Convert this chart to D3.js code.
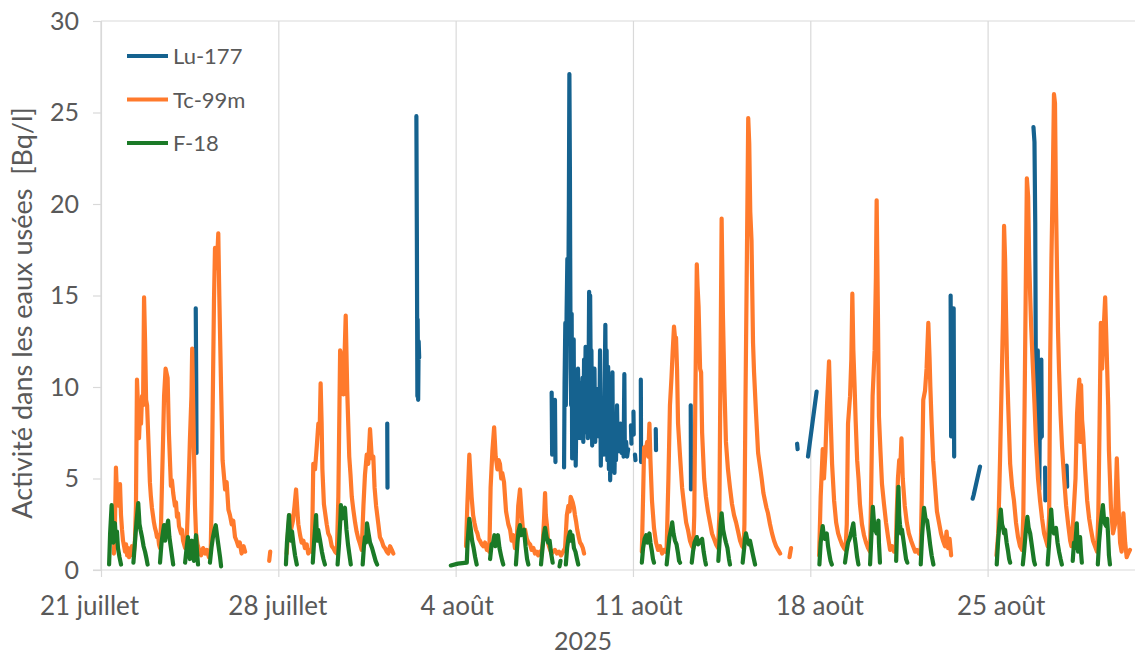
<!DOCTYPE html>
<html><head><meta charset="utf-8">
<script src="https://cdn.jsdelivr.net/npm/d3@7"></script>
<style>
body{margin:0;background:#fff}
svg{display:block}
text{font-family:Lato,'Open Sans',sans-serif;fill:#595959}
</style>
</head><body>
<svg id="chart" width="1135" height="655"></svg>
<script>
// ---------- data ----------
const startDay = Date.UTC(2025, 6, 21);   // 21 juillet 2025, 00:00
const endDay = Date.UTC(2025, 7, 31);
const tickDays = [0, 7, 14, 21, 28, 35];  // days after 21 juillet
const tickLabels = ["21 juillet", "28 juillet", "4 août", "11 août", "18 août", "25 août"];
const yTicks = [0, 5, 10, 15, 20, 25, 30];
const seriesNames = ["Lu-177", "Tc-99m", "F-18"];
const seriesColors = ["#15628F", "#FF7A2C", "#1B7A27"];
const yTitle = "Activité dans les eaux usées \u00a0[Bq/l]";
const xTitle = "2025";

// [days since 21 juillet 00:00, Bq/l]; null = no measurement
const lu177 = [
[3.74,14.3],[3.76,10.0],[3.77,6.4],[3.8,null],
[11.30,8.0],[11.31,4.5],[11.4,null],
[12.45,24.8],[12.47,18.0],[12.49,9.5],[12.50,13.7],[12.52,9.3],[12.54,12.5],[12.56,11.6],[12.6,null],
[17.79,9.7],[17.81,6.3],[17.86,8.8],[17.92,9.3],[17.94,5.9],[18.0,null],
[18.28,5.6],[18.30,10.2],[18.33,13.5],[18.35,9.0],[18.38,14.0],[18.41,17.0],[18.44,13.0],[18.47,20.0],[18.49,27.1],[18.51,22.0],[18.52,17.8],[18.54,11.0],[18.56,9.0],[18.58,14.0],[18.60,6.1],[18.63,9.5],[18.66,12.6],[18.68,7.0],[18.71,10.5],[18.74,5.7],[18.77,9.0],[18.80,7.2],[18.83,11.0],[18.86,8.4],[18.89,10.2],[18.92,7.2],[18.95,9.5],[18.98,8.0],[19.01,10.5],[19.04,7.0],[19.07,11.5],[19.10,8.5],[19.13,12.2],[19.16,7.5],[19.19,10.0],[19.22,7.2],[19.25,11.0],[19.27,15.2],[19.29,10.0],[19.31,15.0],[19.34,9.0],[19.36,12.0],[19.39,6.8],[19.42,10.5],[19.45,7.5],[19.48,11.0],[19.51,7.0],[19.53,9.5],[19.56,8.0],[19.59,8.4],[19.62,9.9],[19.65,7.3],[19.68,8.8],[19.70,12.0],[19.73,5.7],[19.76,9.0],[19.79,7.0],[19.82,9.3],[19.85,6.3],[19.87,8.5],[19.91,13.4],[19.94,7.0],[19.96,12.0],[19.99,6.0],[20.02,11.1],[20.05,5.5],[20.08,10.5],[20.10,4.9],[20.13,9.0],[20.16,5.5],[20.19,10.8],[20.21,6.0],[20.24,8.2],[20.27,5.3],[20.30,7.5],[20.33,6.0],[20.37,9.0],[20.40,6.5],[20.43,7.5],[20.46,6.5],[20.51,8.0],[20.55,6.4],[20.59,7.2],[20.63,6.2],[20.66,10.7],[20.68,6.3],[20.73,7.0],[20.77,6.2],[20.81,6.6],[20.85,null],
[20.92,7.9],[20.94,6.9],[20.98,null],
[21.02,8.65],[21.03,7.4],[21.05,null],
[21.08,6.3],[21.10,6.0],[21.2,null],
[21.31,10.4],[21.32,5.9],[21.4,null],
[21.90,7.7],[21.91,6.55],[22.0,null],
[23.28,9.0],[23.29,4.4],[23.4,null],
[27.48,6.9],[27.50,6.6],[27.6,null],
[27.91,6.2],[28.25,9.75],[28.3,null],
[33.54,15.0],[33.56,7.3],[33.62,7.5],[33.66,14.3],[33.68,6.2],[33.8,null],
[34.41,3.9],[34.45,4.1],[34.70,5.65],[34.8,null],
[36.81,24.2],[36.85,23.4],[36.88,19.0],[36.90,12.0],[36.92,11.3],[36.95,7.5],[36.98,12.0],[37.00,6.0],[37.02,11.4],[37.04,4.4],[37.07,10.0],[37.09,7.2],[37.12,11.5],[37.14,7.3],[37.2,null],
[37.27,5.6],[37.28,3.8],[37.3,null],
[38.12,5.7],[38.14,4.55]
];

const tc99m = [
[0.51,0.9],[0.55,2.5],[0.59,5.6],[0.63,4.2],[0.67,4.6],[0.71,3.5],[0.75,4.7],[0.79,3.0],[0.83,2.2],[0.87,1.6],[0.91,1.3],[0.95,1.0],[0.99,1.4],[1.03,0.8],[1.07,1.2],[1.11,0.7],[1.14,1.1],[1.18,0.9],[1.22,1.3],[1.26,0.8],[1.30,1.0],[1.34,1.6],[1.38,3.5],[1.42,10.4],[1.46,9.0],[1.50,7.2],[1.54,8.5],[1.58,8.0],[1.62,9.5],[1.66,9.0],[1.70,14.9],[1.74,12.5],[1.78,9.3],[1.82,9.0],[1.86,7.5],[1.90,6.0],[1.93,4.8],[1.97,4.0],[2.01,3.4],[2.05,3.0],[2.09,2.6],[2.13,2.3],[2.17,2.1],[2.21,1.8],[2.25,1.9],[2.29,1.4],[2.33,1.2],[2.37,2.5],[2.41,4.9],[2.45,7.1],[2.49,9.5],[2.55,11.0],[2.63,10.5],[2.68,7.5],[2.76,4.6],[2.80,4.9],[2.85,4.2],[2.92,3.5],[2.96,3.7],[3.00,2.9],[3.04,3.1],[3.08,2.4],[3.16,2.0],[3.20,2.2],[3.24,1.6],[3.32,1.2],[3.38,1.5],[3.42,3.0],[3.47,5.2],[3.51,7.1],[3.57,9.5],[3.60,12.1],[3.64,9.0],[3.67,6.6],[3.71,3.5],[3.75,2.0],[3.81,1.4],[3.87,1.1],[3.95,0.8],[4.03,1.2],[4.11,0.9],[4.18,1.1],[4.26,0.7],[4.33,1.0],[4.37,4.0],[4.41,9.0],[4.46,14.7],[4.50,17.6],[4.57,16.5],[4.63,18.4],[4.67,15.0],[4.74,10.0],[4.80,6.0],[4.90,4.4],[4.96,4.8],[5.03,3.3],[5.09,3.0],[5.16,2.5],[5.22,2.7],[5.29,1.8],[5.35,1.6],[5.42,1.3],[5.48,1.5],[5.55,0.9],[5.63,1.3],[5.69,1.0],[5.7,null],
[6.64,0.5],[6.68,1.0],[6.7,null],
[7.33,0.9],[7.38,2.0],[7.44,3.0],[7.50,2.2],[7.58,2.7],[7.64,3.5],[7.70,4.4],[7.75,3.3],[7.79,2.5],[7.86,1.9],[7.92,1.5],[7.99,1.6],[8.05,1.2],[8.12,1.4],[8.18,0.9],[8.25,1.1],[8.32,1.0],[8.35,3.0],[8.38,5.8],[8.45,5.5],[8.52,6.8],[8.58,8.0],[8.63,7.5],[8.67,10.2],[8.71,8.0],[8.74,5.5],[8.80,3.6],[8.86,3.0],[8.91,2.5],[8.97,2.0],[9.04,1.8],[9.11,1.3],[9.17,1.2],[9.24,1.0],[9.31,0.9],[9.37,4.0],[9.44,12.0],[9.50,11.6],[9.57,9.6],[9.61,11.5],[9.66,13.9],[9.72,9.8],[9.76,8.0],[9.80,6.2],[9.85,5.2],[9.90,4.0],[9.96,3.3],[10.03,2.6],[10.09,2.1],[10.16,1.7],[10.23,1.4],[10.29,1.1],[10.36,3.5],[10.42,5.2],[10.49,6.3],[10.55,5.8],[10.62,7.7],[10.69,6.1],[10.75,6.2],[10.80,4.5],[10.86,3.5],[10.95,2.5],[11.01,1.8],[11.08,1.6],[11.15,1.3],[11.21,1.2],[11.28,1.0],[11.34,0.9],[11.41,1.3],[11.48,1.1],[11.54,0.9],[11.6,null],
[14.41,1.3],[14.46,3.5],[14.54,6.3],[14.59,5.0],[14.63,4.0],[14.69,3.0],[14.74,2.6],[14.80,2.2],[14.86,2.0],[14.91,1.7],[14.96,1.6],[15.03,1.4],[15.09,1.3],[15.16,1.5],[15.23,1.1],[15.28,1.3],[15.33,1.0],[15.38,4.5],[15.45,6.5],[15.52,7.8],[15.58,6.2],[15.65,5.5],[15.70,6.0],[15.75,5.8],[15.80,5.0],[15.84,5.3],[15.91,4.8],[15.99,3.2],[16.08,2.5],[16.15,2.2],[16.21,1.6],[16.28,1.9],[16.34,1.2],[16.41,1.5],[16.47,3.5],[16.54,4.4],[16.61,3.0],[16.67,2.0],[16.74,2.2],[16.81,1.7],[16.87,1.5],[16.94,1.4],[17.00,1.1],[17.07,1.2],[17.13,0.9],[17.20,1.0],[17.26,0.8],[17.33,1.0],[17.39,0.9],[17.44,1.5],[17.49,2.8],[17.53,4.2],[17.56,3.0],[17.60,2.5],[17.66,1.4],[17.73,1.1],[17.79,0.9],[17.84,1.0],[17.92,1.1],[18.00,0.9],[18.08,1.0],[18.16,0.8],[18.24,1.0],[18.32,1.2],[18.39,3.0],[18.45,3.5],[18.50,3.2],[18.54,4.0],[18.62,3.7],[18.67,3.4],[18.71,3.0],[18.76,2.6],[18.80,2.2],[18.86,1.8],[18.91,1.5],[18.96,1.4],[19.02,1.2],[19.07,0.9],[19.1,null],
[21.35,1.0],[21.40,4.0],[21.44,6.7],[21.50,6.5],[21.56,7.0],[21.60,6.2],[21.65,8.0],[21.69,6.0],[21.75,3.8],[21.83,2.3],[21.91,1.5],[21.99,1.1],[22.07,1.3],[22.15,0.9],[22.23,1.1],[22.29,1.0],[22.33,1.2],[22.40,5.0],[22.46,9.0],[22.52,10.5],[22.57,12.0],[22.62,13.3],[22.66,12.7],[22.70,12.7],[22.74,11.0],[22.78,8.0],[22.86,6.2],[22.94,4.5],[23.02,3.5],[23.10,2.6],[23.17,2.2],[23.25,1.6],[23.33,1.3],[23.38,1.2],[23.42,3.0],[23.46,9.0],[23.52,16.7],[23.55,15.5],[23.59,14.4],[23.65,11.0],[23.69,10.8],[23.73,7.5],[23.81,5.0],[23.88,4.0],[23.96,3.2],[24.04,2.6],[24.12,2.0],[24.20,1.7],[24.28,1.4],[24.36,1.2],[24.41,3.0],[24.45,10.0],[24.50,19.2],[24.55,14.0],[24.61,10.0],[24.67,7.0],[24.75,5.5],[24.83,4.5],[24.91,3.6],[24.99,3.0],[25.07,2.6],[25.15,2.1],[25.23,1.6],[25.31,1.3],[25.37,1.2],[25.40,2.5],[25.44,9.0],[25.49,16.0],[25.55,24.7],[25.59,23.3],[25.63,19.6],[25.68,18.0],[25.74,12.4],[25.78,10.8],[25.86,8.5],[25.94,6.4],[26.02,5.6],[26.08,5.0],[26.15,4.2],[26.21,3.8],[26.27,3.4],[26.33,3.1],[26.41,2.5],[26.49,2.0],[26.57,1.6],[26.65,1.3],[26.73,1.1],[26.81,0.9],[26.85,null],
[27.18,0.7],[27.24,1.2],[27.3,null],
[28.35,0.8],[28.41,4.0],[28.49,6.6],[28.54,5.0],[28.60,6.5],[28.66,9.0],[28.74,11.4],[28.80,8.5],[28.86,5.8],[28.94,3.8],[29.02,2.6],[29.10,2.0],[29.17,1.7],[29.25,1.4],[29.33,1.2],[29.39,1.1],[29.44,2.5],[29.49,8.0],[29.57,9.5],[29.62,11.5],[29.66,15.1],[29.70,12.0],[29.75,10.0],[29.79,8.2],[29.85,6.0],[29.91,4.9],[29.96,3.6],[30.04,2.5],[30.12,1.9],[30.20,1.5],[30.28,1.2],[30.36,1.0],[30.40,4.0],[30.46,9.5],[30.54,12.0],[30.59,16.0],[30.62,20.2],[30.67,14.0],[30.71,8.4],[30.77,6.5],[30.83,4.7],[30.91,3.6],[30.99,2.6],[31.07,1.8],[31.15,1.1],[31.23,1.3],[31.31,1.0],[31.38,1.3],[31.41,3.0],[31.46,5.0],[31.51,6.0],[31.55,5.5],[31.60,7.2],[31.65,5.0],[31.73,3.5],[31.81,2.6],[31.89,2.0],[31.98,1.6],[32.06,1.3],[32.14,1.0],[32.21,1.1],[32.29,0.9],[32.36,1.1],[32.40,4.0],[32.46,9.3],[32.53,9.8],[32.59,11.0],[32.66,13.5],[32.71,11.5],[32.74,10.0],[32.79,8.0],[32.85,6.0],[32.93,4.5],[33.00,3.2],[33.08,2.6],[33.16,2.0],[33.24,1.6],[33.32,1.3],[33.38,2.1],[33.44,1.2],[33.50,1.7],[33.56,0.8],[33.6,null],
[35.35,0.8],[35.42,2.0],[35.49,6.0],[35.56,10.6],[35.61,14.0],[35.65,18.8],[35.69,17.0],[35.73,13.8],[35.77,11.0],[35.81,9.1],[35.89,5.8],[35.97,4.5],[36.04,3.8],[36.12,2.6],[36.20,1.8],[36.28,1.3],[36.36,1.1],[36.41,3.0],[36.46,9.0],[36.50,14.6],[36.55,21.4],[36.60,20.4],[36.64,17.1],[36.68,15.0],[36.72,13.3],[36.79,11.0],[36.85,9.1],[36.91,7.0],[36.99,5.0],[37.07,3.8],[37.15,2.8],[37.23,2.0],[37.31,1.6],[37.37,1.3],[37.43,3.0],[37.47,11.5],[37.52,17.0],[37.58,22.0],[37.62,26.0],[37.66,25.5],[37.70,20.0],[37.74,16.4],[37.78,13.0],[37.82,10.9],[37.88,8.5],[37.94,6.7],[38.02,5.0],[38.10,3.5],[38.18,2.5],[38.26,1.6],[38.31,1.3],[38.35,2.0],[38.41,3.5],[38.47,5.0],[38.53,8.5],[38.57,9.5],[38.62,10.4],[38.66,7.0],[38.69,10.1],[38.73,8.2],[38.77,7.5],[38.85,5.5],[38.93,3.8],[39.01,2.8],[39.08,2.2],[39.16,1.6],[39.24,1.3],[39.32,1.0],[39.37,3.0],[39.42,8.0],[39.47,13.5],[39.52,11.0],[39.56,12.5],[39.64,14.9],[39.68,13.0],[39.72,11.0],[39.76,9.0],[39.79,6.5],[39.83,5.0],[39.87,3.4],[39.95,2.0],[40.03,2.5],[40.10,6.1],[40.15,4.0],[40.23,1.5],[40.29,1.0],[40.36,3.1],[40.43,1.5],[40.49,0.7],[40.55,0.9],[40.62,1.1]
];

const f18 = [
[0.32,0.3],[0.36,2.0],[0.42,3.55],[0.45,2.2],[0.49,1.5],[0.51,2.5],[0.55,2.55],[0.59,1.6],[0.63,2.1],[0.67,1.2],[0.73,0.7],[0.79,0.3],[0.8,null],
[1.28,0.4],[1.34,1.5],[1.40,2.6],[1.47,3.65],[1.52,2.5],[1.56,2.2],[1.62,1.8],[1.68,1.3],[1.74,1.0],[1.80,0.6],[1.84,0.3],[1.85,null],
[2.33,0.4],[2.39,1.5],[2.45,2.1],[2.49,2.45],[2.53,1.6],[2.58,2.2],[2.65,2.7],[2.70,1.8],[2.76,1.2],[2.81,0.7],[2.85,0.3],[2.86,null],
[3.32,0.4],[3.38,1.2],[3.43,1.8],[3.47,1.2],[3.51,0.6],[3.55,1.3],[3.59,1.6],[3.63,0.9],[3.67,0.5],[3.71,1.2],[3.75,1.9],[3.79,1.0],[3.83,0.3],[3.84,null],
[4.30,0.4],[4.36,1.2],[4.42,1.8],[4.48,2.2],[4.53,2.45],[4.58,1.9],[4.64,1.3],[4.70,0.7],[4.74,0.2],[4.75,null],
[7.30,0.3],[7.34,1.5],[7.42,3.0],[7.46,1.9],[7.49,1.6],[7.54,2.1],[7.60,1.4],[7.66,0.8],[7.73,0.3],[7.74,null],
[8.36,0.4],[8.41,1.5],[8.49,3.0],[8.53,1.6],[8.57,2.2],[8.65,1.6],[8.72,1.0],[8.78,0.6],[8.84,0.3],[8.85,null],
[9.34,0.3],[9.40,1.5],[9.45,2.8],[9.47,3.55],[9.51,2.8],[9.55,3.0],[9.59,3.3],[9.63,3.4],[9.69,2.2],[9.75,1.4],[9.81,0.8],[9.86,0.3],[9.87,null],
[10.33,0.3],[10.38,1.3],[10.42,1.8],[10.46,1.5],[10.50,2.55],[10.56,2.0],[10.62,1.5],[10.70,1.2],[10.78,0.8],[10.84,0.5],[10.90,0.3],[10.91,null],
[13.81,0.25],[14.09,0.35],[14.44,0.4],[14.47,1.5],[14.54,2.8],[14.59,2.3],[14.65,1.6],[14.71,1.2],[14.77,0.7],[14.83,0.3],[14.84,null],
[15.36,0.6],[15.42,1.4],[15.48,1.5],[15.53,1.9],[15.57,1.3],[15.63,1.6],[15.67,1.9],[15.73,1.2],[15.79,0.8],[15.84,0.5],[15.88,0.3],[15.89,null],
[16.38,0.3],[16.44,1.5],[16.48,2.1],[16.54,2.45],[16.58,1.9],[16.64,2.1],[16.70,2.2],[16.76,1.3],[16.82,0.6],[16.87,0.3],[16.88,null],
[17.37,0.3],[17.43,1.2],[17.48,1.9],[17.53,2.3],[17.59,1.8],[17.65,1.5],[17.71,1.6],[17.77,0.9],[17.83,0.4],[17.84,null],
[18.10,0.2],[18.14,0.5],[18.15,null],
[18.35,0.3],[18.40,1.2],[18.46,1.8],[18.52,2.1],[18.56,1.6],[18.61,1.9],[18.67,1.2],[18.73,1.0],[18.79,0.6],[18.84,0.3],[18.85,null],
[21.35,0.4],[21.40,1.2],[21.46,1.7],[21.52,1.9],[21.56,1.5],[21.59,1.7],[21.65,2.0],[21.69,1.5],[21.75,1.0],[21.79,0.6],[21.83,0.4],[21.84,null],
[22.33,0.3],[22.38,1.0],[22.44,1.8],[22.50,2.2],[22.55,2.6],[22.60,2.0],[22.66,1.6],[22.72,1.4],[22.78,0.9],[22.82,0.5],[22.86,0.4],[22.87,null],
[23.32,0.4],[23.37,1.0],[23.43,1.5],[23.52,1.8],[23.57,1.4],[23.63,1.6],[23.69,1.5],[23.73,1.7],[23.79,1.0],[23.85,0.5],[23.88,0.3],[23.89,null],
[24.37,0.5],[24.42,1.6],[24.46,2.5],[24.50,3.1],[24.56,2.2],[24.62,1.8],[24.67,1.5],[24.73,1.2],[24.79,0.6],[24.83,0.3],[24.84,null],
[25.33,0.4],[25.39,1.2],[25.42,1.7],[25.46,2.0],[25.52,1.6],[25.58,1.4],[25.62,1.6],[25.68,1.2],[25.74,0.8],[25.82,0.3],[25.83,null],
[28.36,0.3],[28.41,1.5],[28.49,2.4],[28.54,1.8],[28.58,1.7],[28.65,2.0],[28.70,1.3],[28.76,0.8],[28.80,0.5],[28.85,0.3],[28.86,null],
[29.37,0.4],[29.43,1.0],[29.49,1.5],[29.55,1.7],[29.61,2.0],[29.70,2.55],[29.75,1.8],[29.79,1.4],[29.85,0.7],[29.90,0.3],[29.91,null],
[30.36,0.3],[30.41,1.8],[30.47,3.45],[30.52,2.5],[30.56,2.2],[30.62,2.0],[30.69,2.7],[30.71,1.5],[30.75,0.4],[30.76,null],
[31.39,0.5],[31.43,2.5],[31.48,4.55],[31.51,3.0],[31.54,2.5],[31.58,2.0],[31.62,2.2],[31.68,1.6],[31.74,1.0],[31.78,0.6],[31.83,0.4],[31.84,null],
[32.36,0.3],[32.41,1.8],[32.49,3.4],[32.55,2.8],[32.61,2.7],[32.67,2.1],[32.73,1.4],[32.79,0.8],[32.86,0.3],[32.87,null],
[35.36,0.3],[35.41,1.5],[35.47,2.6],[35.52,3.3],[35.57,2.5],[35.61,2.3],[35.65,2.0],[35.69,2.2],[35.75,1.5],[35.81,1.0],[35.85,0.6],[35.89,0.4],[35.90,null],
[36.39,0.3],[36.44,1.0],[36.50,2.0],[36.57,2.9],[36.62,2.3],[36.68,2.0],[36.74,1.4],[36.79,0.9],[36.83,0.5],[36.87,0.3],[36.88,null],
[37.37,0.3],[37.43,1.5],[37.47,2.5],[37.51,3.3],[37.56,2.3],[37.62,2.0],[37.66,2.2],[37.70,2.3],[37.76,1.5],[37.82,1.0],[37.88,0.6],[37.93,0.3],[37.94,null],
[38.36,0.5],[38.41,1.5],[38.45,1.2],[38.52,2.55],[38.55,1.4],[38.57,1.0],[38.61,1.4],[38.65,1.8],[38.69,0.9],[38.72,0.4],[38.73,null],
[39.35,0.3],[39.40,1.5],[39.46,2.5],[39.55,3.55],[39.60,2.7],[39.64,2.5],[39.68,2.4],[39.72,2.8],[39.76,1.8],[39.79,0.8],[39.83,0.3]
];

// ---------- drawing ----------
const W = 1135, H = 655;
const plot = {left: 101, right: 1139.6, top: 21, bottom: 570};
const svg = d3.select("#chart");
const DAY = 86400000;
const toDate = d => new Date(startDay + d * DAY);

const x = d3.scaleUtc().domain([new Date(startDay), new Date(endDay)]).range([plot.left, plot.right]);
const y = d3.scaleLinear().domain([0, 30]).range([plot.bottom, plot.top]);

const gridColor = "#D9D9D9";

// vertical gridlines (weekly)
const gx = svg.append("g").attr("transform", `translate(0,${plot.bottom})`)
  .call(d3.axisBottom(x).tickValues(tickDays.map(toDate)).tickSize(-(plot.bottom - plot.top)).tickFormat(""));
gx.select(".domain").remove();
gx.selectAll("line").attr("stroke", gridColor).attr("stroke-width", 1.2);

// x axis (ticks below + labels)
const labelShift = [-12, -1, 1, 5, 9, 13];
const xa = svg.append("g").attr("transform", `translate(0,${plot.bottom})`)
  .call(d3.axisBottom(x).tickValues(tickDays.map(toDate)).tickSize(7).tickPadding(0)
    .tickFormat((d, i) => tickLabels[i]));
xa.select(".domain").attr("stroke", gridColor).attr("stroke-width", 1.2)
  .attr("d", `M${plot.left - 8},0H${W}`);
xa.selectAll("line").attr("stroke", gridColor).attr("stroke-width", 1.2);
xa.selectAll("text").attr("font-size", 26).attr("y", 45).attr("dy", 0)
  .attr("dx", (d, i) => labelShift[i]).style("font-family", "Lato").attr("fill", "#595959");

// y axis
const ya = svg.append("g").attr("transform", `translate(${plot.left},0)`)
  .call(d3.axisLeft(y).tickValues(yTicks).tickSize(8).tickPadding(14));
ya.select(".domain").attr("stroke", gridColor).attr("stroke-width", 1.2)
  .attr("d", `M0,${plot.top}V${plot.bottom}`);
ya.selectAll("line").attr("stroke", gridColor).attr("stroke-width", 1.2);
ya.selectAll("text").attr("font-size", 25).style("font-family", "Lato").attr("fill", "#595959");

// top border line at 30
svg.append("line").attr("x1", plot.left).attr("x2", W)
  .attr("y1", y(30)).attr("y2", y(30)).attr("stroke", gridColor).attr("stroke-width", 1.2);

// series
const line = d3.line().defined(d => d[1] != null)
  .x(d => x(toDate(d[0]))).y(d => y(d[1]));
const series = [lu177, tc99m, f18];
const clip = svg.append("clipPath").attr("id", "clip").append("rect")
  .attr("x", plot.left).attr("y", 0).attr("width", W - plot.left).attr("height", plot.bottom + 2);
const lines = svg.append("g").attr("clip-path", "url(#clip)");
series.forEach((s, i) => {
  lines.append("path").datum(s).attr("d", line).attr("fill", "none")
    .attr("stroke", seriesColors[i]).attr("stroke-width", 4.2)
    .attr("stroke-linejoin", "round").attr("stroke-linecap", "round");
});

// legend
const lg = svg.append("g");
seriesNames.forEach((n, i) => {
  const yy = 56 + i * 43.5;
  lg.append("line").attr("x1", 127).attr("x2", 168).attr("y1", yy).attr("y2", yy)
    .attr("stroke", seriesColors[i]).attr("stroke-width", 4);
  lg.append("text").attr("x", 173).attr("y", yy + 8).attr("font-size", 22).text(n);
});

// axis titles
svg.append("text").attr("transform", "translate(32,313) rotate(-90)")
  .attr("text-anchor", "middle").attr("font-size", 27).text(yTitle);
svg.append("text").attr("x", 583).attr("y", 650).attr("text-anchor", "middle")
  .attr("font-size", 25).text(xTitle);
</script>
</body></html>
